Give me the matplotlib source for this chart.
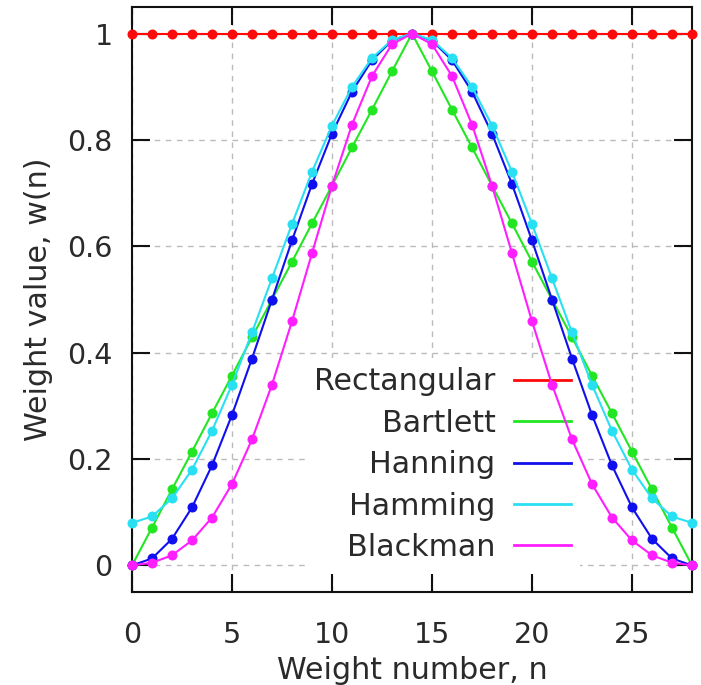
import matplotlib
matplotlib.use('Agg')
import matplotlib.pyplot as plt
from matplotlib.lines import Line2D
from matplotlib.ticker import FuncFormatter

fontSize = 20.5
labelSize = 21.7

# weight index and window weights, n = 0..28
n = list(range(29))
rectangular = [1.0] * 29
bartlett = [0.0, 0.071, 0.143, 0.214, 0.286, 0.357, 0.429, 0.5, 0.571, 0.643,
            0.714, 0.786, 0.857, 0.929, 1.0, 0.929, 0.857, 0.786, 0.714, 0.643,
            0.571, 0.5, 0.429, 0.357, 0.286, 0.214, 0.143, 0.071, 0.0]
hanning = [0.0, 0.013, 0.050, 0.109, 0.188, 0.283, 0.389, 0.5, 0.611, 0.717,
           0.812, 0.891, 0.950, 0.987, 1.0, 0.987, 0.950, 0.891, 0.812, 0.717,
           0.611, 0.5, 0.389, 0.283, 0.188, 0.109, 0.050, 0.013, 0.0]
hamming = [0.08, 0.092, 0.126, 0.180, 0.253, 0.340, 0.438, 0.54, 0.642, 0.740,
           0.827, 0.900, 0.954, 0.988, 1.0, 0.988, 0.954, 0.900, 0.827, 0.740,
           0.642, 0.54, 0.438, 0.340, 0.253, 0.180, 0.126, 0.092, 0.08]
blackman = [0.0, 0.005, 0.019, 0.047, 0.090, 0.153, 0.237, 0.34, 0.459, 0.587,
            0.714, 0.829, 0.920, 0.980, 1.0, 0.980, 0.920, 0.829, 0.714, 0.587,
            0.459, 0.34, 0.237, 0.153, 0.090, 0.047, 0.019, 0.005, 0.0]

names = ['Rectangular', 'Bartlett', 'Hanning', 'Hamming', 'Blackman']
series = [rectangular, bartlett, hanning, hamming, blackman]
colors = ['#ff0a0a', '#22e622', '#1010ee', '#28e0f2', '#ff1eff']

plt.rcParams['font.family'] = 'DejaVu Sans'
fig = plt.figure(figsize=(7.01, 6.85), dpi=100)
ax = fig.add_axes([132/701, 1-592/685, 560/701, 585/685])

for y, c in zip(series, colors):
    ax.plot(n, y, '-o', color=c, lw=1.5, ms=7.2, mew=0, clip_on=False, zorder=3)

ax.set_xlim(0, 28)
ax.set_ylim(-0.05, 1.05)
ax.set_xticks([0, 5, 10, 15, 20, 25])
ax.set_yticks([0, 0.2, 0.4, 0.6, 0.8, 1.0])
ax.yaxis.set_major_formatter(FuncFormatter(lambda v, p: '%g' % round(v, 1)))
ax.tick_params(direction='in', length=13, width=1.5, top=True, right=True,
               labelsize=fontSize, labelcolor='#2a2a2a', color='#111111')
ax.tick_params(axis='x', pad=21)
ax.tick_params(axis='y', pad=14)
for s in ax.spines.values():
    s.set_linewidth(1.5)
    s.set_color('#111111')
ax.grid(True, color='#bbbbbb', ls=(0, (4, 4)), lw=1.0)
ax.set_axisbelow(True)

ax.set_xlabel('Weight number, n', fontsize=labelSize, color='#2a2a2a', labelpad=5)
ax.set_ylabel('Weight value, w(n)', fontsize=labelSize, color='#2a2a2a', labelpad=10)

handles = [Line2D([], [], color=c, lw=2) for c in colors]
leg = ax.legend(handles, names, loc='lower right', bbox_to_anchor=(0.80, 0.036),
                markerfirst=False, fontsize=labelSize, frameon=True, fancybox=False,
                framealpha=1, facecolor='white', edgecolor='none',
                handlelength=1.9, handletextpad=0.6, labelspacing=0.41,
                borderpad=0.3, borderaxespad=0)
leg.set_zorder(2.5)
for t in leg.get_texts():
    t.set_color('#2a2a2a')
for col in leg._legend_handle_box.get_children():
    col.align = 'right'

fig.savefig('out.png', dpi=100)
